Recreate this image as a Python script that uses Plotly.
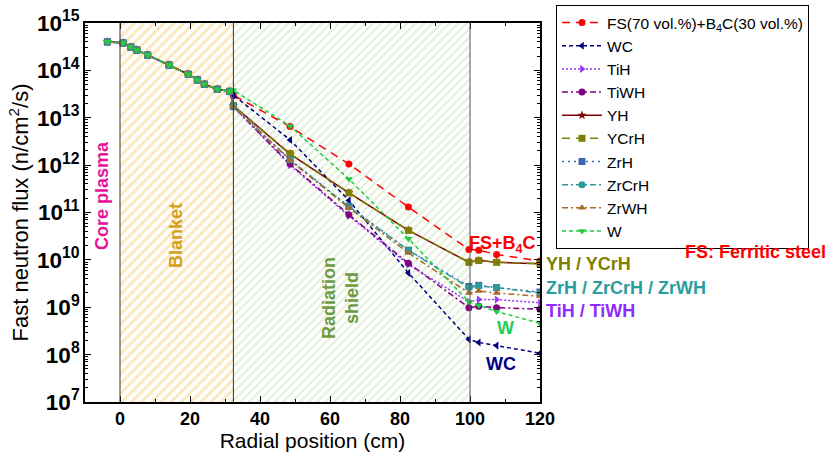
import plotly.graph_objects as go

# ---------------- data ----------------
blanket_x = [-3.6, 0.9, 3.1, 4.8, 7.9, 14.0, 19.5, 22.1, 24.1, 27.8, 31.4]
blanket_flux = [4.0e14, 3.8e14, 3.1e14, 2.7e14, 2.1e14, 1.3e14, 8.3e13, 6.3e13, 5.1e13, 4.0e13, 3.6e13]
shield_x = [32.4, 48.6, 65.4, 82.4, 99.7, 102.5, 107.6, 120.0]

series_names = ["FS(70 vol.%)+B<sub>4</sub>C(30 vol.%)", "WC", "TiH", "TiWH", "YH",
                "YCrH", "ZrH", "ZrCrH", "ZrWH", "W"]
flux_fs = [3.0e13, 6.5e12, 1.06e12, 1.3e11, 1.65e10, 1.6e10, 1.3e10, 9.5e9]
flux_wc = [3.0e13, 3.4e12, 1.8e11, 5.3e9, 2.1e8, 1.8e8, 1.55e8, 1.07e8]
flux_tih = [1.7e13, 1.0e12, 8.5e10, 8.0e9, 1.3e9, 1.45e9, 1.45e9, 1.25e9]
flux_tiwh = [1.7e13, 1.05e12, 9.0e10, 8.5e9, 9.8e8, 1.05e9, 9.8e8, 9.1e8]
flux_yh = [1.8e13, 1.7e12, 2.6e11, 4.2e10, 8.9e9, 9.7e9, 8.9e9, 8.3e9]
flux_ycrh = [1.8e13, 1.75e12, 2.6e11, 4.2e10, 8.9e9, 9.7e9, 8.9e9, 8.3e9]
flux_zrh = [1.75e13, 1.3e12, 1.35e11, 1.6e10, 2.75e9, 2.9e9, 2.6e9, 2.1e9]
flux_zrcrh = [1.75e13, 1.3e12, 1.3e11, 1.6e10, 2.6e9, 2.8e9, 2.6e9, 2.0e9]
flux_zrwh = [1.7e13, 1.25e12, 1.25e11, 1.4e10, 2.0e9, 2.2e9, 2.0e9, 1.7e9]
flux_w = [3.8e13, 6.7e12, 5.1e11, 2.8e10, 1.3e9, 1.1e9, 8.1e8, 4.6e8]

x_ticks = [0, 20, 40, 60, 80, 100, 120]
region_edges = [0, 32.4, 100]

all_flux = [flux_fs, flux_wc, flux_tih, flux_tiwh, flux_yh, flux_ycrh,
            flux_zrh, flux_zrcrh, flux_zrwh, flux_w]

# ---------------- styles ----------------
colors = ["#ff0000", "#000080", "#9933ff", "#800080", "#800000",
          "#808000", "#3a6ab0", "#2a9a9a", "#a86a28", "#22cc44"]
dashes = ["8px,6px", "4px,3px", "2px,2px", "6px,3px,2px,3px", "solid",
          "8px,6px", "2px,4px", "6px,3px,2px,3px", "6px,3px,2px,3px", "4px,3px"]
symbols = ["circle", "triangle-left", "triangle-right", "circle", "star",
           "square", "square", "circle", "triangle-up", "triangle-down"]

fig = go.Figure()

# hatched regions
def region(x0, x1, fg, size, sol):
    fig.add_trace(go.Scatter(
        x=[x0, x1, x1, x0, x0], y=[1e7, 1e7, 1e15, 1e15, 1e7],
        mode="lines", line=dict(width=0), fill="toself",
        fillcolor="rgba(255,255,255,0)",
        fillpattern=dict(shape="/", fgcolor=fg, bgcolor="white", size=size, solidity=sol),
        showlegend=False, hoverinfo="skip"))

region(region_edges[0], region_edges[1], "#fbd07a", 7, 0.42)
region(region_edges[1], region_edges[2], "#c9e1b8", 6, 0.38)

for name, flux, c, d, s in zip(series_names, all_flux, colors, dashes, symbols):
    fig.add_trace(go.Scatter(
        x=blanket_x + shield_x, y=blanket_flux + flux, name=name,
        mode="lines+markers",
        line=dict(color=c, width=1.5, dash=d),
        marker=dict(color=c, symbol=s, size=7),
    ))

L, R, T, B = 85, 540, 23, 402
W_, H_ = 827, 457

def px(x):
    return (x - L) / (R - L)

def py(y):
    return (B - y) / (B - T)

shapes = []
for xe, col in zip(region_edges, ["#333333", "#333333", "#555555"]):
    shapes.append(dict(type="line", xref="x", yref="paper", x0=xe, x1=xe, y0=0, y1=1,
                       line=dict(color=col, width=1), layer="above"))

bold = dict(family="Liberation Sans, Arial, sans-serif", size=18, weight="bold")

def ann(text, x, y, color, angle=0, xanchor="center", size=18):
    return dict(text=text, x=px(x), y=py(y), xref="paper", yref="paper",
                showarrow=False, textangle=angle, xanchor=xanchor, yanchor="middle",
                font=dict(family="Liberation Sans, Arial, sans-serif", size=size,
                          weight="bold", color=color))

annotations = [
    ann("Core plasma", 102, 196, "#e6149a", angle=-90),
    ann("Blanket", 176, 236, "#d4a020", angle=-90),
    ann("Radiation<br>shield", 340, 298, "#6f9a40", angle=-90),
    ann("FS+B<sub>4</sub>C", 502, 244, "#ff0000"),
    ann("YH / YCrH", 544, 264, "#808000", xanchor="left"),
    ann("ZrH / ZrCrH / ZrWH", 544, 288, "#2a9d9d", xanchor="left"),
    ann("TiH / TiWH", 544, 311, "#8f2bff", xanchor="left"),
    ann("W", 505, 328, "#22cc55"),
    ann("WC", 501, 364, "#000080"),
    ann("FS: Ferritic steel", 683, 252, "#ff0000", xanchor="left"),
]

axis_common = dict(showline=True, linecolor="black", linewidth=1.5, mirror="allticks",
                   ticks="inside", tickcolor="black", showgrid=False, zeroline=False)

fig.update_layout(
    width=W_, height=H_,
    margin=dict(l=L, r=W_ - R, t=T, b=H_ - B, autoexpand=False),
    paper_bgcolor="white", plot_bgcolor="white",
    font=dict(family="Liberation Sans, Arial, sans-serif", color="black"),
    xaxis=dict(range=[-10, 120], tickvals=x_ticks, ticklen=6,
               tickfont=bold,
               minor=dict(ticks="inside", ticklen=3, dtick=10, tickcolor="black"),
               title=dict(text="Radial position (cm)", font=dict(size=21), standoff=5),
               **axis_common),
    yaxis=dict(type="log", range=[7, 15], dtick=1, exponentformat="power", ticklen=6,
               tickfont=bold,
               minor=dict(ticks="inside", ticklen=3, dtick="D1", tickcolor="black"),
               title=dict(text="Fast neutron flux (n/cm<sup>2</sup>/s)", font=dict(size=22), standoff=2),
               **axis_common),
    legend=dict(x=px(556), y=py(5), xanchor="left", yanchor="top",
                bordercolor="black", borderwidth=1, bgcolor="white",
                font=dict(size=15.5), tracegroupgap=0, maxheight=420, itemwidth=40),
    shapes=shapes,
    annotations=annotations,
)

fig.write_html("out.html", config={"displayModeBar": False},
               post_script="document.body.style.margin='0';document.body.style.overflow='hidden';")
